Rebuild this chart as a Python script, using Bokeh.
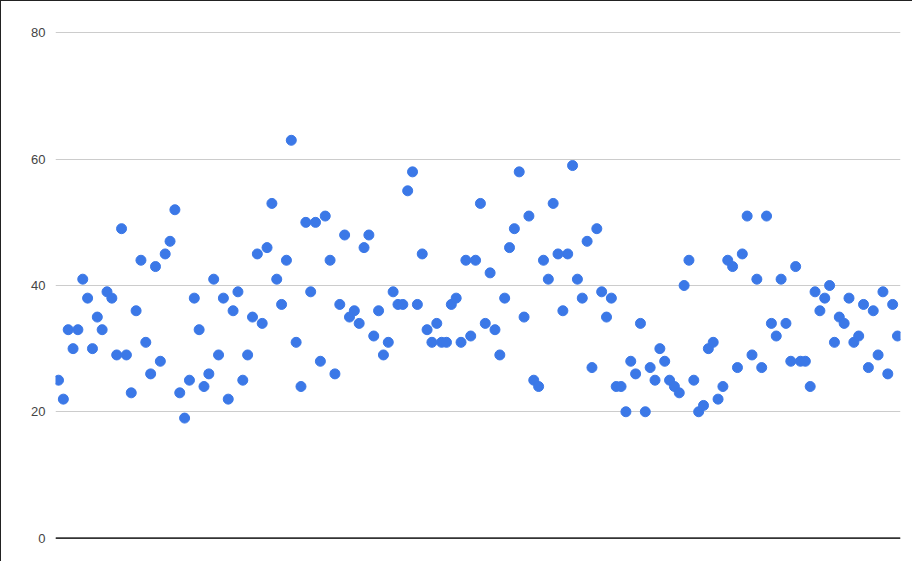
from bokeh.plotting import figure
from bokeh.models import Range1d, FixedTicker, Span, ColumnDataSource
from bokeh.embed import file_html
from bokeh.resources import INLINE

values = [
    25, 22, 33, 30, 33, 41, 38, 30, 35, 33, 39, 38, 29, 49, 29, 23, 36, 44, 31, 26,
    43, 28, 45, 47, 52, 23, 19, 25, 38, 33, 24, 26, 41, 29, 38, 22, 36, 39, 25, 29,
    35, 45, 34, 46, 53, 41, 37, 44, 63, 31, 24, 50, 39, 50, 28, 51, 44, 26, 37, 48,
    35, 36, 34, 46, 48, 32, 36, 29, 31, 39, 37, 37, 55, 58, 37, 45, 33, 31, 34, 31,
    31, 37, 38, 31, 44, 32, 44, 53, 34, 42, 33, 29, 38, 46, 49, 58, 35, 51, 25, 24,
    44, 41, 53, 45, 36, 45, 59, 41, 38, 47, 27, 49, 39, 35, 38, 24, 24, 20, 28, 26,
    34, 20, 27, 25, 30, 28, 25, 24, 23, 40, 44, 25, 20, 21, 30, 31, 22, 24, 44, 43,
    27, 45, 51, 29, 41, 27, 51, 34, 32, 41, 34, 28, 43, 28, 28, 24, 39, 36, 38, 40,
    31, 35, 34, 38, 31, 32, 37, 27, 36, 29, 39, 26, 37, 32,
]
index = list(range(1, len(values) + 1))
y_ticks = [0, 20, 40, 60, 80]

source = ColumnDataSource(data=dict(x=index, y=values))

p = figure(
    width=912, height=561,
    output_backend="svg", toolbar_location=None,
    x_range=Range1d(0.38, len(values) + 0.62),
    y_range=Range1d(-1.5, 81.5),
    min_border_left=54, min_border_right=13,
    min_border_top=22, min_border_bottom=15,
)
p.styles = {"border-left": "1.5px solid #222", "border-top": "1.5px solid #222"}
p.outline_line_color = None
p.background_fill_color = "white"
p.border_fill_color = "white"

p.xaxis.visible = False
p.xgrid.grid_line_color = None

p.yaxis.ticker = FixedTicker(ticks=y_ticks)
p.yaxis.axis_line_color = None
p.yaxis.major_tick_line_color = None
p.yaxis.minor_tick_line_color = None
p.yaxis.major_tick_out = 0
p.yaxis.major_tick_in = 0
p.yaxis.minor_tick_out = 0
p.yaxis.major_label_standoff = 10
p.yaxis.major_label_text_font = "Liberation Sans"
p.yaxis.major_label_text_font_size = "13px"
p.yaxis.major_label_text_color = "#444444"
p.ygrid.ticker = FixedTicker(ticks=y_ticks)
p.ygrid.grid_line_color = "#cccccc"
p.ygrid.grid_line_width = 1.2

p.add_layout(Span(location=0, dimension="width", line_color="#333333", line_width=1.8))

p.scatter("x", "y", source=source, size=10, fill_color="#3b78e7", line_color="#3b78e7")

open("out.html", "w").write(file_html(p, INLINE))
